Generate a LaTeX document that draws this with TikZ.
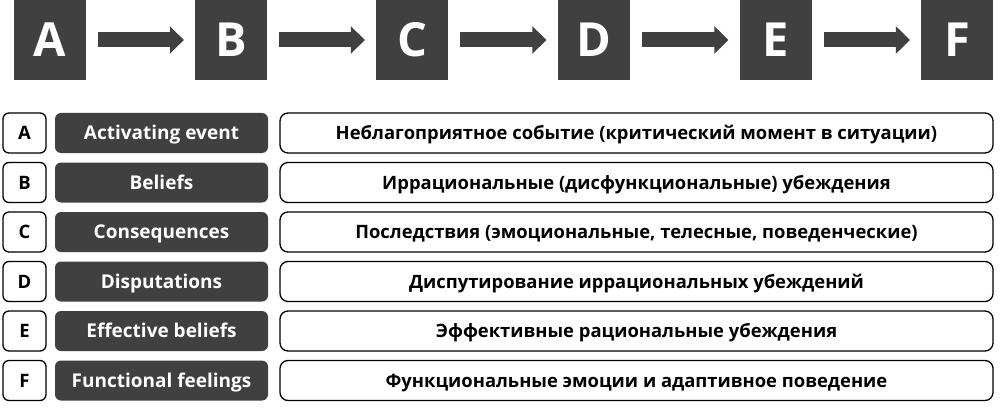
\documentclass[tikz,border=0pt]{standalone}
\usepackage{fontspec}
\setmainfont{Open Sans}
\usetikzlibrary{arrows.meta}
\definecolor{dark}{HTML}{404040}
\tikzset{
  topbox/.style={fill=dark, minimum width=72pt, minimum height=80pt, inner sep=0pt, text=white, text height=34pt, text depth=0pt, font=\fontsize{47}{47}\selectfont\bfseries},
  flow/.style={draw=dark, line width=15pt, -{Triangle[width=27pt,length=14pt]}, shorten <=12pt, shorten >=11pt},
  rowtext/.style={text height=13pt, text depth=0pt},
  letterbox/.style={rowtext, draw=black, line width=1.3pt, fill=white, rounded corners=6pt, minimum width=43pt, minimum height=40pt, inner sep=0pt, font=\fontsize{18.5}{18.5}\selectfont\bfseries},
  namebox/.style={rowtext, fill=dark, rounded corners=6pt, minimum width=213pt, minimum height=40pt, inner sep=0pt, text=white, font=\fontsize{19}{19}\selectfont\bfseries},
  descbox/.style={rowtext, draw=black, line width=1.3pt, fill=white, rounded corners=8pt, minimum width=713pt, minimum height=40pt, inner sep=0pt, font=\fontsize{18.4}{18.4}\selectfont\bfseries}
}
\begin{document}
\begin{tikzpicture}[x=1pt,y=-1pt]
\useasboundingbox (0,0) rectangle (1000,409);
\node[topbox] (tA) at (50,40) {A};
\node[topbox] (tB) at (231,40) {B};
\node[topbox] (tC) at (412,40) {C};
\node[topbox] (tD) at (593.5,40) {D};
\node[topbox] (tE) at (775.5,40) {E};
\node[topbox] (tF) at (957,40) {F};
\draw[flow] (tA) -- (tB);
\draw[flow] (tB) -- (tC);
\draw[flow] (tC) -- (tD);
\draw[flow] (tD) -- (tE);
\draw[flow] (tE) -- (tF);

\foreach \y/\L/\N/\D [count=\i] in {
 133/A/Activating event/Неблагоприятное событие (критический момент в ситуации),
 182.5/B/Beliefs/Иррациональные (дисфункциональные) убеждения,
 232/C/Consequences/Последствия (эмоциональные{,} телесные{,} поведенческие),
 281.5/D/Disputations/Диспутирование иррациональных убеждений,
 331/E/Effective beliefs/Эффективные рациональные убеждения,
 380.5/F/Functional feelings/Функциональные эмоции и адаптивное поведение}{
  \node[letterbox] (l\i) at (24.5,\y) {\L};
  \node[namebox] (n\i) at (161.5,\y) {\N};
  \node[descbox] (d\i) at (636.5,\y) {\D};
}
\end{tikzpicture}
\end{document}
